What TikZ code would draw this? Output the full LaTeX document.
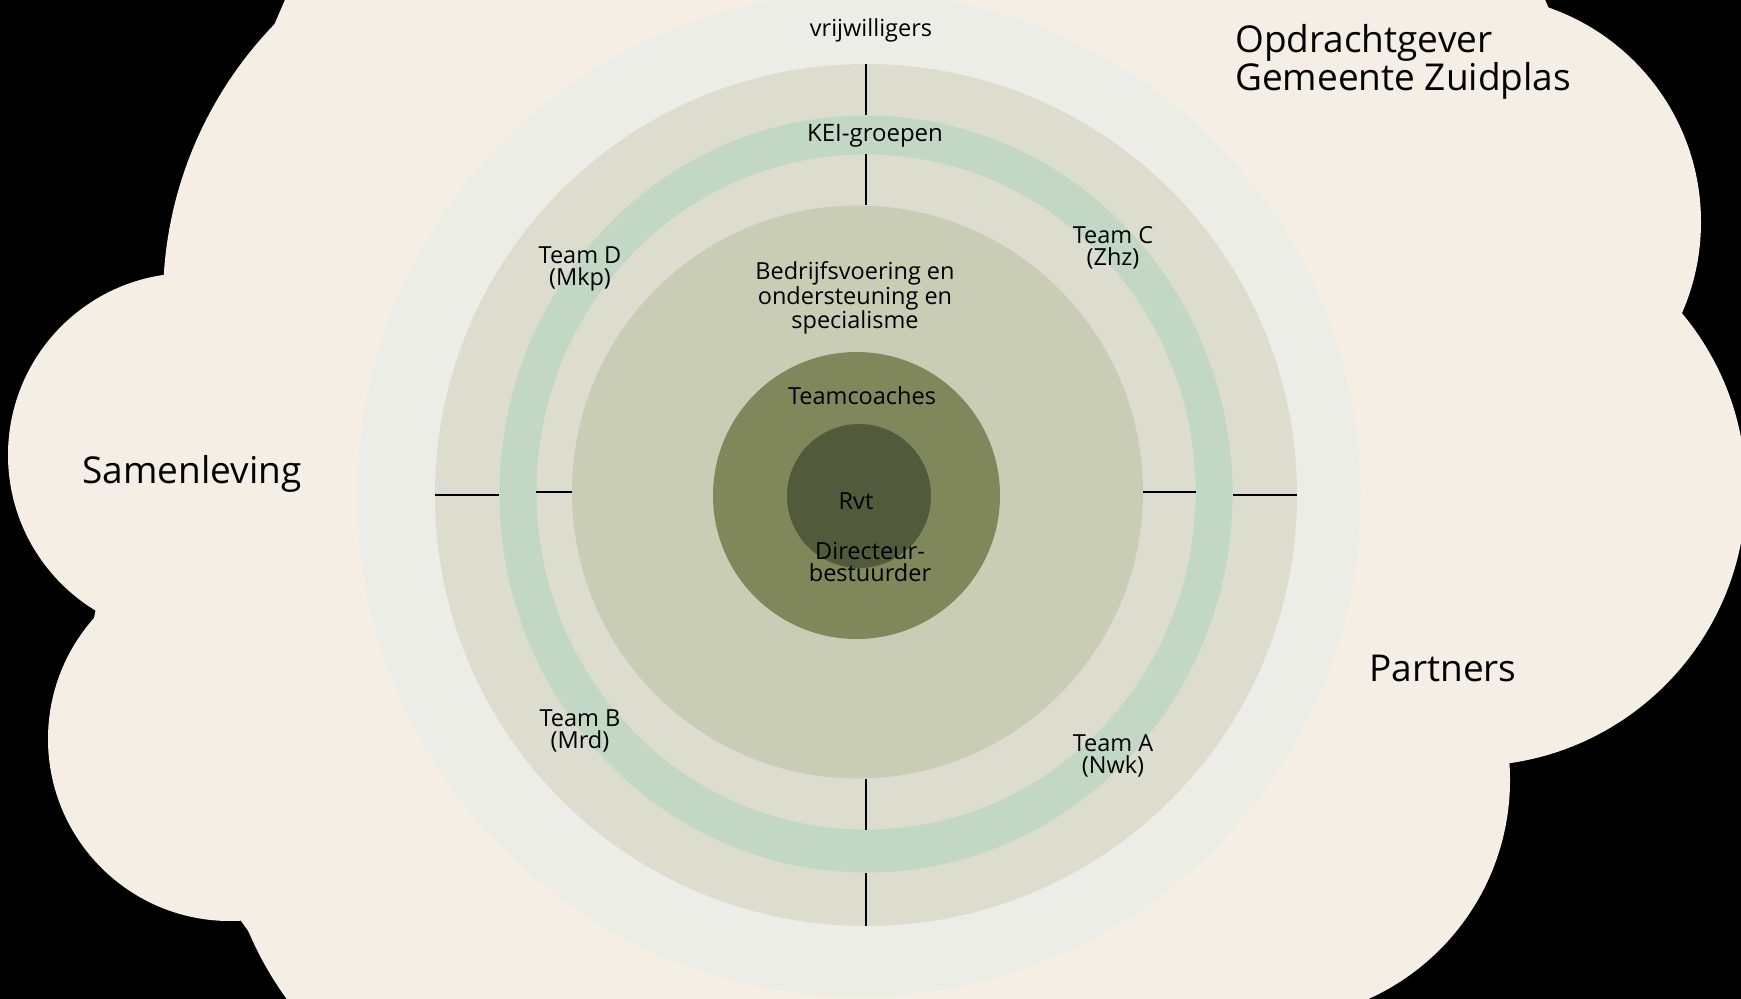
\documentclass[tikz,border=0pt]{standalone}
\usepackage{fontspec}
\setmainfont{Open Sans}
\usetikzlibrary{shapes.geometric}

\definecolor{cloudcol}{HTML}{F5EEE4}
\definecolor{vrijcol}{HTML}{EDEDE7}
\definecolor{teamcol}{HTML}{DCDDCF}
\definecolor{keicol}{HTML}{C2D8C4}
\definecolor{bedrcol}{HTML}{C9CDB5}
\definecolor{coachcol}{HTML}{80875A}
\definecolor{rvtcol}{HTML}{535A3C}

\tikzset{
  ring/.style={circle, draw=none, inner sep=0pt},
  oval/.style={ellipse, draw=none, inner sep=0pt},
  divider/.style={draw=black, line width=1.5pt},
  lbl/.style={font=\fontsize{23.5}{21.5}\selectfont, align=center, inner sep=0pt},
  biglbl/.style={font=\fontsize{37}{33}\selectfont, align=left, inner sep=0pt},
}

\begin{document}
\begin{tikzpicture}[x=1pt, y=-1pt]
\useasboundingbox (0,0) rectangle (1741,999);
\fill[black] (0,0) rectangle (1741,999);
% cloud
\fill[cloudcol] (560,300) circle (397pt);
\fill[cloudcol] (190,455) circle (182pt);
\fill[cloudcol] (230,739) circle (182pt);
\fill[cloudcol] (560,800) circle (338pt);
\fill[cloudcol] (1474,222) circle (227pt);
\fill[cloudcol] (1470,490) circle (276pt);
\fill[cloudcol] (1270,780) circle (240pt);
\fill[cloudcol] (287,-5) -- (1543,-5) -- (1682,314) -- (1508,764) -- (1200,1005)
  -- (302,1005) -- (241,921) -- (94,618) -- (165,280) -- cycle;
% rings
\node[ring, fill=vrijcol, minimum size=1003pt] (vrij) at (859,495) {};
\node[ring, fill=teamcol, minimum size=862pt] (team) at (866,495) {};
\node[oval, fill=keicol, minimum width=733pt, minimum height=757pt] (keiout) at (866,494) {};
\node[oval, fill=teamcol, minimum width=659pt, minimum height=675pt] (keiin) at (866,492) {};
\node[oval, fill=bedrcol, minimum width=571pt, minimum height=573pt] (bedr) at (857.5,492) {};
\node[ring, fill=coachcol, minimum size=287pt] (coach) at (856.5,495.5) {};
\node[ring, fill=rvtcol, minimum size=144pt] (rvt) at (859,496) {};
% dividers
\draw[divider] (team.north) -- (team.north |- keiout.north);
\draw[divider] (keiin.north) -- (keiin.north |- bedr.north);
\draw[divider] (team.south) -- (team.south |- keiout.south);
\draw[divider] (keiin.south) -- (keiin.south |- bedr.south);
\draw[divider] (team.west) -- (team.west -| keiout.west);
\draw[divider] (keiin.west) -- (keiin.west -| bedr.west);
\draw[divider] (team.east) -- (team.east -| keiout.east);
\draw[divider] (keiin.east) -- (keiin.east -| bedr.east);
% labels
\node[lbl] (vrijtxt) at (871,30) {vrijwilligers};
\node[lbl, font=\fontsize{24}{22}\selectfont] (keitxt) at (875,136) {KEI-groepen};
\node[lbl] (teamc) at (1113,248) {Team C\\(Zhz)};
\node[lbl] (teamd) at (580,269) {Team D\\(Mkp)};
\node[lbl] (teamb) at (580,731) {Team B\\(Mrd)};
\node[lbl] (teama) at (1113,756) {Team A\\(Nwk)};
\node[lbl] (bedrtxt) at (855,298) {Bedrijfsvoering en\\ondersteuning en\\specialisme};
\node[lbl] (coachtxt) at (862,396) {Teamcoaches};
\node[lbl] (rvttxt) at (856,501) {Rvt};
\node[lbl] (dirtxt) at (870,562) {Directeur-\\bestuurder};
\node[biglbl] (samen) at (192,474) {Samenleving};
\node[biglbl] (partners) at (1443,668) {Partners};
\node[biglbl, anchor=west] (opdr) at (1235,62) {Opdrachtgever\\Gemeente Zuidplas};
\end{tikzpicture}
\end{document}
